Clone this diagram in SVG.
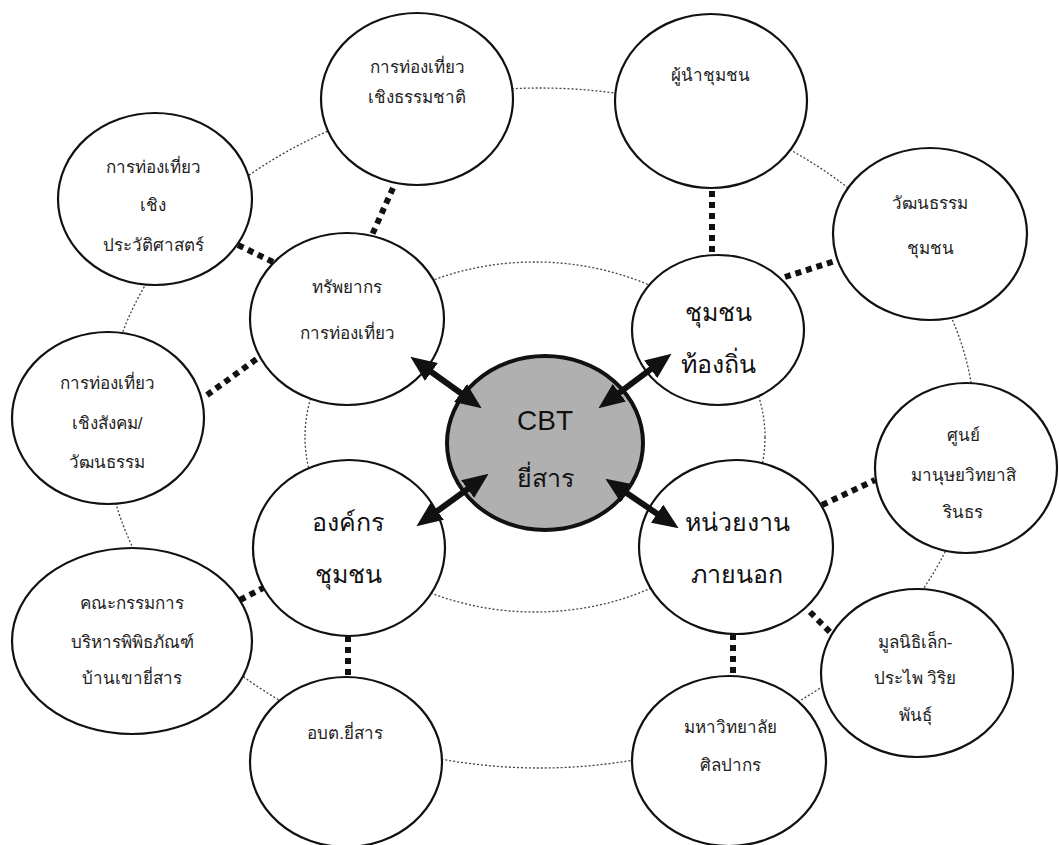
<svg xmlns="http://www.w3.org/2000/svg" width="1059" height="845" viewBox="0 0 1059 845">
<style>
.ring{fill:none;stroke:#444;stroke-width:1.3;stroke-dasharray:2 2}
.node{fill:#fff;stroke:#111;stroke-width:2.2}
.hub{fill:#b0b0b0;stroke:#111;stroke-width:4}
.tie{stroke:#111;stroke-width:6;stroke-dasharray:6 5;fill:none}
.arr{stroke:#111;stroke-width:6;fill:none;marker-start:url(#ah);marker-end:url(#ah)}
text{font-family:"Liberation Sans","DejaVu Sans","Noto Sans",sans-serif;fill:#222;text-anchor:middle}
.s{font-size:17px}
.l{font-size:25px;fill:#111}
.c{font-size:28px;fill:#111}
</style>
<defs>
<marker id="ah" markerUnits="userSpaceOnUse" markerWidth="26" markerHeight="22" refX="4" refY="11" orient="auto-start-reverse" viewBox="0 0 26 22">
<path d="M0,0 L26,11 L0,22 z" fill="#111"/>
</marker>
</defs>
<rect width="1059" height="845" fill="#fff"/>
<g id="rings">
<ellipse class="ring" cx="540" cy="428" rx="435" ry="340"/>
<ellipse class="ring" cx="535" cy="437" rx="230" ry="175"/>
</g>
<g id="connectors">
<line class="tie" x1="393" y1="188" x2="372" y2="235"/>
<line class="tie" x1="238" y1="245" x2="273" y2="262"/>
<line class="tie" x1="207" y1="395" x2="258" y2="358"/>
<line class="tie" x1="712" y1="191" x2="712" y2="255"/>
<line class="tie" x1="785" y1="277" x2="835" y2="261"/>
<line class="tie" x1="822" y1="505" x2="875" y2="480"/>
<line class="tie" x1="810" y1="612" x2="830" y2="632"/>
<line class="tie" x1="733" y1="634" x2="733" y2="676"/>
<line class="tie" x1="240" y1="600" x2="263" y2="588"/>
<line class="tie" x1="348" y1="636" x2="348" y2="677"/>
</g>
<g id="n_nature"><ellipse class="node" cx="417" cy="99" rx="96" ry="86"/><text class="s" x="417" y="73">การท่องเที่ยว</text><text class="s" x="417" y="103">เชิงธรรมชาติ</text></g>
<g id="n_leader"><ellipse class="node" cx="711" cy="101" rx="96" ry="87"/><text class="s" x="710" y="81">ผู้นำชุมชน</text></g>
<g id="n_culture"><ellipse class="node" cx="930" cy="234" rx="97" ry="86"/><text class="s" x="930" y="209">วัฒนธรรม</text><text class="s" x="930" y="254">ชุมชน</text></g>
<g id="n_history"><ellipse class="node" cx="155" cy="199" rx="97" ry="86"/><text class="s" x="153" y="173">การท่องเที่ยว</text><text class="s" x="153" y="211">เชิง</text><text class="s" x="153" y="251">ประวัติศาสตร์</text></g>
<g id="n_social"><ellipse class="node" cx="108" cy="418" rx="96" ry="86"/><text class="s" x="107" y="389">การท่องเที่ยว</text><text class="s" x="107" y="429">เชิงสังคม/</text><text class="s" x="107" y="468">วัฒนธรรม</text></g>
<g id="n_committee"><ellipse class="node" cx="132" cy="641" rx="120" ry="93"/><text class="s" x="132" y="609">คณะกรรมการ</text><text class="s" x="132" y="648">บริหารพิพิธภัณฑ์</text><text class="s" x="132" y="684">บ้านเขายี่สาร</text></g>
<g id="n_sao"><ellipse class="node" cx="346" cy="762" rx="96" ry="85"/><text class="s" x="345" y="739">อบต.ยี่สาร</text></g>
<g id="n_univ"><ellipse class="node" cx="729" cy="761" rx="97" ry="85"/><text class="s" x="730" y="733">มหาวิทยาลัย</text><text class="s" x="730" y="771">ศิลปากร</text></g>
<g id="n_found"><ellipse class="node" cx="917" cy="673" rx="96" ry="84"/><text class="s" x="915" y="648">มูลนิธิเล็ก-</text><text class="s" x="915" y="684">ประไพ วิริย</text><text class="s" x="915" y="721">พันธุ์</text></g>
<g id="n_anthro"><ellipse class="node" cx="966" cy="468" rx="91" ry="85"/><text class="s" x="963" y="441">ศูนย์</text><text class="s" x="963" y="481">มานุษยวิทยาสิ</text><text class="s" x="963" y="518">รินธร</text></g>
<g id="n_resource"><ellipse class="node" cx="347" cy="319" rx="97" ry="86"/><text class="s" x="347" y="293">ทรัพยากร</text><text class="s" x="347" y="339">การท่องเที่ยว</text></g>
<g id="n_local"><ellipse class="node" cx="718" cy="330" rx="86" ry="75"/><text class="l" x="718" y="321">ชุมชน</text><text class="l" x="718" y="373">ท้องถิ่น</text></g>
<g id="n_org"><ellipse class="node" cx="349" cy="548" rx="96" ry="88"/><text class="l" x="348" y="531">องค์กร</text><text class="l" x="348" y="583">ชุมชน</text></g>
<g id="n_external"><ellipse class="node" cx="736" cy="547" rx="97" ry="87"/><text class="l" x="737" y="531">หน่วยงาน</text><text class="l" x="737" y="583">ภายนอก</text></g>
<g id="n_cbt"><ellipse class="hub" cx="545" cy="443" rx="98" ry="87"/><text class="c" x="545" y="430">CBT</text><text class="l" x="545" y="487">ยี่สาร</text></g>
<g id="arrows">
<line class="arr" x1="428.2" y1="369.7" x2="463.8" y2="395.3"/>
<line class="arr" x1="653.9" y1="366.9" x2="616.1" y2="395.1"/>
<line class="arr" x1="470.8" y1="486.7" x2="434.2" y2="513.3"/>
<line class="arr" x1="623.6" y1="491.1" x2="660.4" y2="515.9"/>
</g>
</svg>
